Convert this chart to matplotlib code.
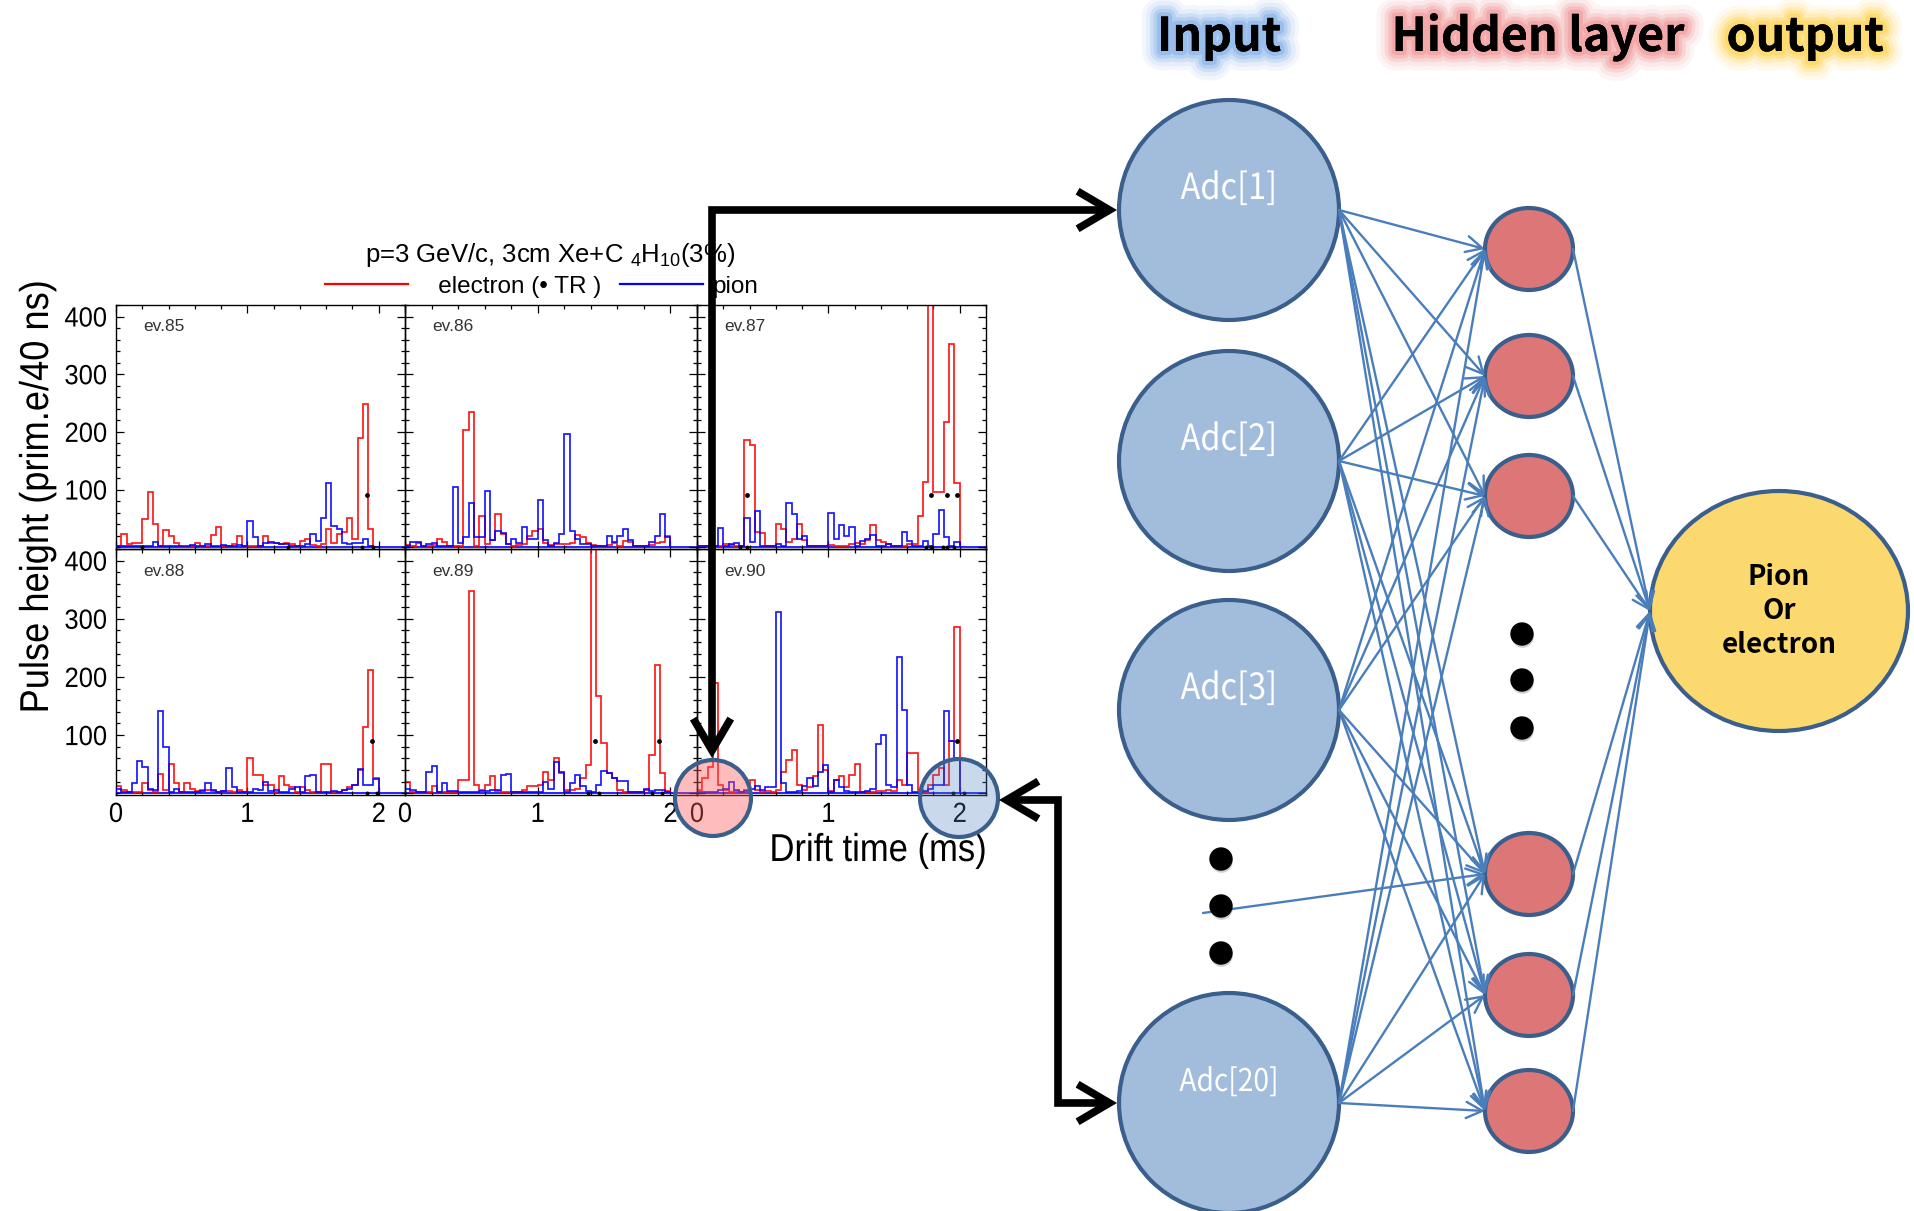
import numpy as np
import matplotlib
matplotlib.use("Agg")
import matplotlib.pyplot as plt
from matplotlib.patches import Ellipse, Circle, FancyArrowPatch, ArrowStyle
from matplotlib.path import Path
from matplotlib.ticker import MultipleLocator
from matplotlib.lines import Line2D
from matplotlib.transforms import Affine2D
import matplotlib.patheffects as pe

# ---------------------------------------------------------------- data
BIN_US = 0.04          # 40 ns bins, drift time in microseconds
TR_LEVEL = 90          # height at which TR cluster markers are drawn

events = ["ev.85", "ev.86", "ev.87", "ev.88", "ev.89", "ev.90"]

electron_85 = [3, 23, 6, 8, 7, 49, 96, 41, 2, 30,
               20, 8, 0, 0, 2, 7, 2, 3, 21, 35,
               3, 3, 5, 19, 3, 2, 2, 2, 19, 8,
               8, 5, 7, 6, 3, 11, 14, 4, 3, 6,
               31, 8, 23, 27, 51, 14, 189, 249, 31, 0]
pion_85 = [2, 2, 2, 3, 2, 2, 2, 10, 2, 2,
           2, 2, 2, 2, 4, 2, 2, 5, 2, 2,
           4, 2, 2, 4, 2, 46, 17, 2, 7, 10,
           8, 6, 5, 3, 2, 3, 6, 23, 11, 50,
           111, 37, 31, 8, 6, 8, 7, 15, 3, 0]
electron_86 = [4, 2, 7, 2, 3, 4, 15, 10, 2, 2,
               3, 203, 234, 2, 55, 5, 12, 57, 23, 5,
               3, 4, 5, 19, 28, 31, 8, 4, 5, 5,
               6, 8, 21, 18, 7, 4, 2, 3, 4, 8,
               3, 11, 10, 3, 2, 2, 4, 7, 10, 19]
pion_86 = [2, 10, 10, 2, 5, 8, 3, 3, 2, 104,
           8, 18, 76, 18, 17, 97, 12, 28, 25, 5,
           15, 8, 35, 15, 15, 82, 13, 3, 8, 23,
           197, 28, 15, 5, 5, 3, 2, 2, 20, 10,
           20, 31, 12, 3, 2, 3, 10, 20, 58, 17]
electron_87 = [3, 2, 2, 2, 2, 6, 4, 3, 2, 186,
               177, 26, 25, 2, 3, 41, 31, 10, 15, 40,
               12, 3, 3, 2, 3, 4, 2, 3, 2, 5,
               8, 5, 12, 38, 12, 10, 6, 3, 2, 2,
               5, 5, 55, 114, 480, 95, 95, 217, 352, 111]
pion_87 = [3, 2, 2, 2, 34, 2, 5, 8, 2, 51,
           10, 63, 2, 2, 3, 5, 2, 76, 57, 14,
           20, 3, 2, 3, 3, 60, 14, 39, 20, 35,
           3, 11, 14, 21, 3, 3, 5, 3, 2, 26,
           11, 3, 2, 11, 3, 23, 64, 17, 3, 10]
electron_88 = [13, 5, 2, 2, 2, 17, 5, 2, 33, 5,
               50, 18, 3, 17, 8, 4, 5, 5, 4, 3,
               4, 4, 3, 5, 3, 60, 31, 31, 15, 14,
               3, 30, 15, 10, 3, 10, 6, 2, 3, 50,
               51, 3, 2, 5, 10, 15, 40, 114, 212, 26]
pion_88 = [8, 2, 2, 18, 55, 46, 8, 6, 141, 80,
           3, 8, 2, 3, 2, 3, 4, 17, 5, 3,
           4, 43, 11, 3, 2, 2, 7, 6, 20, 4,
           5, 3, 2, 7, 10, 3, 30, 31, 2, 3,
           3, 4, 2, 5, 8, 14, 41, 15, 15, 24]
electron_89 = [20, 3, 2, 2, 2, 13, 3, 3, 2, 2,
               23, 23, 348, 14, 5, 14, 30, 4, 3, 3,
               3, 3, 5, 13, 13, 15, 37, 23, 60, 35,
               6, 5, 8, 26, 49, 500, 168, 87, 34, 27,
               5, 3, 2, 2, 3, 5, 65, 220, 34, 4]
pion_89 = [8, 6, 2, 2, 37, 47, 3, 17, 4, 4,
           3, 2, 2, 3, 4, 4, 5, 6, 31, 33,
           3, 2, 2, 2, 2, 3, 20, 8, 53, 36,
           3, 17, 31, 13, 4, 3, 14, 38, 34, 26,
           21, 21, 3, 2, 2, 8, 4, 5, 5, 2]
electron_90 = [6, 26, 46, 189, 14, 5, 3, 4, 3, 5,
               23, 5, 3, 4, 3, 5, 37, 57, 74, 14,
               5, 11, 29, 117, 40, 4, 23, 29, 11, 31,
               50, 3, 3, 3, 4, 4, 5, 4, 23, 14,
               69, 69, 6, 3, 14, 31, 43, 14, 89, 286]
pion_90 = [3, 2, 2, 2, 5, 7, 20, 6, 3, 4,
           7, 13, 6, 10, 10, 312, 17, 3, 3, 4,
           13, 26, 13, 37, 49, 3, 23, 11, 4, 3,
           3, 3, 4, 8, 84, 100, 14, 10, 234, 143,
           14, 3, 3, 4, 8, 15, 14, 142, 89, 60]

# drift times of clusters flagged as TR (drawn at TR_LEVEL)
tr_85 = [1.91]
tr_86 = []
tr_87 = [0.38, 1.78, 1.90, 1.98]
tr_88 = [1.95]
tr_89 = [1.43, 1.91]
tr_90 = [1.98]

# cluster markers on the zero line
zero_85 = [0.20, 1.31, 1.87, 1.96]
zero_86 = []
zero_87 = [0.33, 0.38, 1.74, 1.78, 1.87, 1.90, 1.96]
zero_88 = [1.91, 1.99]
zero_89 = [1.38, 1.46, 1.86, 1.94]
zero_90 = [1.95, 2.03]

y_ticks = [100, 200, 300, 400]
x_ticks = [0, 1, 2]

input_labels = ["Adc[1]", "Adc[2]", "Adc[3]", "Adc[20]"]
layer_titles = ["Input", "Hidden layer", "output"]
output_label = "Pion\nOr\nelectron"

# ---------------------------------------------------------------- style
W, H, DPI = 1915, 1211, 100
RED, BLUE = "#ff0000", "#0000ff"
PLOT_FONT = ["Liberation Sans", "DejaVu Sans"]
DIAG_FONT = ["Noto Sans CJK KR", "DejaVu Sans"]
NODE_EDGE = "#3b5f8c"
IN_FILL = "#a2bcdb"
HID_FILL = "#dd7777"
OUT_FILL = "#fcd96f"
LINK = "#4a7ebb"

plt.rcParams["font.family"] = PLOT_FONT
plt.rcParams["mathtext.fontset"] = "custom"
plt.rcParams["mathtext.rm"] = "Liberation Sans"
plt.rcParams["mathtext.it"] = "Liberation Sans:italic"


class Condensed(pe.AbstractPathEffect):
    """Squeeze a text path horizontally (in its own frame) about a chosen anchor."""

    def __init__(self, sx, anchor="center"):
        super().__init__()
        self.sx = sx
        self.anchor = anchor

    def draw_path(self, renderer, gc, tpath, affine, rgbFace=None):
        ext = tpath.get_extents()
        ax0 = {"left": ext.x0, "center": 0.5 * (ext.x0 + ext.x1), "right": ext.x1}[self.anchor]
        squeeze = Affine2D().translate(-ax0, 0).scale(self.sx, 1).translate(ax0, 0)
        renderer.draw_path(gc, tpath, squeeze + affine, rgbFace)


fig = plt.figure(figsize=(W / DPI, H / DPI), dpi=DPI)
fig.patch.set_facecolor("white")


def rect(x0, y0, x1, y1):
    """Pixel box (top-left origin) -> figure fraction rectangle."""
    return [x0 / W, 1 - y1 / H, (x1 - x0) / W, (y1 - y0) / H]


col_edges = [116, 405, 697, 986]
row_edges = [305, 549, 795]

panels = [
    (events[0], electron_85, pion_85, tr_85, zero_85),
    (events[1], electron_86, pion_86, tr_86, zero_86),
    (events[2], electron_87, pion_87, tr_87, zero_87),
    (events[3], electron_88, pion_88, tr_88, zero_88),
    (events[4], electron_89, pion_89, tr_89, zero_89),
    (events[5], electron_90, pion_90, tr_90, zero_90),
]

for k, (name, ele, pio, tr, zer) in enumerate(panels):
    r, c = divmod(k, 3)
    ax = fig.add_axes(rect(col_edges[c], row_edges[r], col_edges[c + 1], row_edges[r + 1]))
    ax.set_facecolor("none")
    edges_e = np.arange(len(ele) + 1) * BIN_US
    edges_p = np.arange(len(pio) + 1) * BIN_US
    ax.axhline(0, color=BLUE, lw=1.2, zorder=1)
    ax.stairs(ele, edges_e, color=RED, lw=1.25, alpha=0.9, zorder=2)
    ax.stairs(pio, edges_p, color=BLUE, lw=1.25, alpha=0.9, zorder=3)
    if tr:
        ax.scatter(tr, [TR_LEVEL] * len(tr), s=12, color="black", zorder=5, lw=0)
    if zer:
        ax.scatter(zer, [0] * len(zer), s=8, color="black", zorder=5, lw=0, clip_on=False)
    ax.set_xlim(0, 2.2)
    ax.set_ylim(-3, 420)
    ax.xaxis.set_major_locator(MultipleLocator(1))
    ax.xaxis.set_minor_locator(MultipleLocator(0.2))
    ax.yaxis.set_major_locator(MultipleLocator(100))
    ax.yaxis.set_minor_locator(MultipleLocator(20))
    ax.tick_params(which="both", direction="in", top=True, right=True,
                   width=0.9, colors="black", labelsize=20, pad=5)
    ax.tick_params(which="major", length=6)
    ax.tick_params(which="minor", length=3)
    if c == 0:
        ax.set_yticks(y_ticks)
        ax.set_yticklabels([str(v) for v in y_ticks])
    else:
        ax.set_yticklabels([])
    if r == 1:
        ax.set_xticks(x_ticks)
        ax.set_xticklabels([str(v) for v in x_ticks])
    else:
        ax.set_xticklabels([])
    for lab in ax.get_xticklabels() + ax.get_yticklabels():
        lab.set_path_effects([Condensed(0.92)])
    for s in ax.spines.values():
        s.set_linewidth(1.0)
    ax.text(0.095, 0.91, name, transform=ax.transAxes, fontsize=12.5,
            color="#333333", va="center", ha="left")

# axis titles, title and key of the histogram block
fig.text(37 / W, 1 - 497 / H, "Pulse height (prim.e/40 ns)", rotation=90,
         ha="center", va="center", fontsize=29,
         path_effects=[Condensed(0.9)])
fig.text(987 / W, 1 - 851 / H, "Drift time (ms)", ha="right", va="center", fontsize=28,
         path_effects=[Condensed(0.89, anchor="right")])
fig.text(550 / W, 1 - 255 / H, r"p=3 GeV/c, 3cm Xe+C $_{4}$H$_{10}$(3%)",
         ha="center", va="center", fontsize=18.5)
key_handles = [Line2D([], [], color=RED, lw=1.6), Line2D([], [], color=BLUE, lw=1.6)]
fig.legend(key_handles, ["   electron (\u2022 TR )", "pion"], ncol=2, frameon=False,
           loc="center", bbox_to_anchor=(542 / W, 1 - 287 / H), fontsize=17.5,
           handlelength=3.4, handletextpad=0.4, columnspacing=0.8)

# ---------------------------------------------------------------- network diagram
ov = fig.add_axes([0, 0, 1, 1], zorder=10)
ov.set_xlim(0, W)
ov.set_ylim(H, 0)
ov.set_axis_off()

in_x, in_rx, in_ry = 1229, 110, 110
in_y = [210, 461, 710, 1103]
hid_x, hid_rx, hid_ry = 1529, 44, 41
hid_y = [249, 376, 496, 874, 995, 1111]
out_x, out_y, out_rx, out_ry = 1779, 611, 129, 120

link_style = ArrowStyle("->", head_length=0.9, head_width=0.45)
link_kw = dict(arrowstyle=link_style, mutation_scale=13, color=LINK, lw=1.7,
               shrinkA=0, shrinkB=0, zorder=4)
for yi in in_y:
    for yh in hid_y:
        ov.add_patch(FancyArrowPatch((in_x + in_rx, yi), (hid_x - hid_rx, yh), **link_kw))
for yh in hid_y:
    ov.add_patch(FancyArrowPatch((hid_x + hid_rx, yh), (out_x - out_rx, out_y), **link_kw))
# link leaving the elided inputs
ov.add_patch(FancyArrowPatch((1203, 913), (hid_x - hid_rx, hid_y[3]), **link_kw))

for yi, lab in zip(in_y, input_labels):
    ov.add_patch(Ellipse((in_x, yi), 2 * in_rx, 2 * in_ry, facecolor=IN_FILL,
                         edgecolor=NODE_EDGE, lw=3, zorder=3))
    ov.text(in_x, yi - 21, lab, color="white", ha="center", va="center",
            fontsize=26 if len(lab) < 7 else 22.5, family=DIAG_FONT, zorder=5,
            path_effects=[Condensed(0.9)])
for yh in hid_y:
    ov.add_patch(Ellipse((hid_x, yh), 2 * hid_rx, 2 * hid_ry, facecolor=HID_FILL,
                         edgecolor=NODE_EDGE, lw=3, zorder=3))
ov.add_patch(Ellipse((out_x, out_y), 2 * out_rx, 2 * out_ry, facecolor=OUT_FILL,
                     edgecolor=NODE_EDGE, lw=3, zorder=3))
ov.text(out_x, out_y, output_label, ha="center", va="center", fontsize=20,
        fontweight="bold", family=DIAG_FONT, linespacing=1.27, zorder=5)

dot_fx = [pe.SimplePatchShadow(offset=(0.5, -2), shadow_rgbFace="#777777", alpha=0.35),
          pe.Normal()]
for yd in [859, 906, 953]:
    ov.add_patch(Circle((1221, yd), 11, color="black", zorder=6, path_effects=dot_fx))
for yd in [634, 680, 728]:
    ov.add_patch(Circle((1522, yd), 11, color="black", zorder=6, path_effects=dot_fx))


def glow(color):
    layers = [(28, 0.10), (22, 0.15), (16, 0.25), (11, 0.4), (6, 0.7)]
    return [pe.withStroke(linewidth=lw, foreground=color, alpha=a) for lw, a in layers] + [pe.Normal()]


for (tx, col), title in zip([(1219, "#8fb8ea"), (1538, "#f3a0a0"), (1805, "#ffd75e")],
                            layer_titles):
    ov.text(tx, 37, title, ha="center", va="center", fontsize=33.5, fontweight="bold",
            family=DIAG_FONT, color="black", path_effects=glow(col), zorder=7)

# highlighted time slices at the start and end of the drift window
ov.add_patch(Circle((713, 798), 38, facecolor=(1.0, 0.35, 0.35, 0.4),
                    edgecolor=NODE_EDGE, lw=3, zorder=8))
ov.add_patch(Circle((959, 798), 39, facecolor=(0.31, 0.51, 0.74, 0.3),
                    edgecolor=NODE_EDGE, lw=3, zorder=8))

conn_style = ArrowStyle("<->", head_length=0.85, head_width=0.5)
upper = Path([(712, 758), (712, 210), (1117, 210)])
lower = Path([(999, 800), (1058, 800), (1058, 1103), (1117, 1103)])
for p in (upper, lower):
    ov.add_patch(FancyArrowPatch(path=p, arrowstyle=conn_style, mutation_scale=27,
                                 color="black", lw=5.5, joinstyle="miter",
                                 capstyle="butt", zorder=9))

fig.savefig("out.png", dpi=DPI, facecolor="white")
